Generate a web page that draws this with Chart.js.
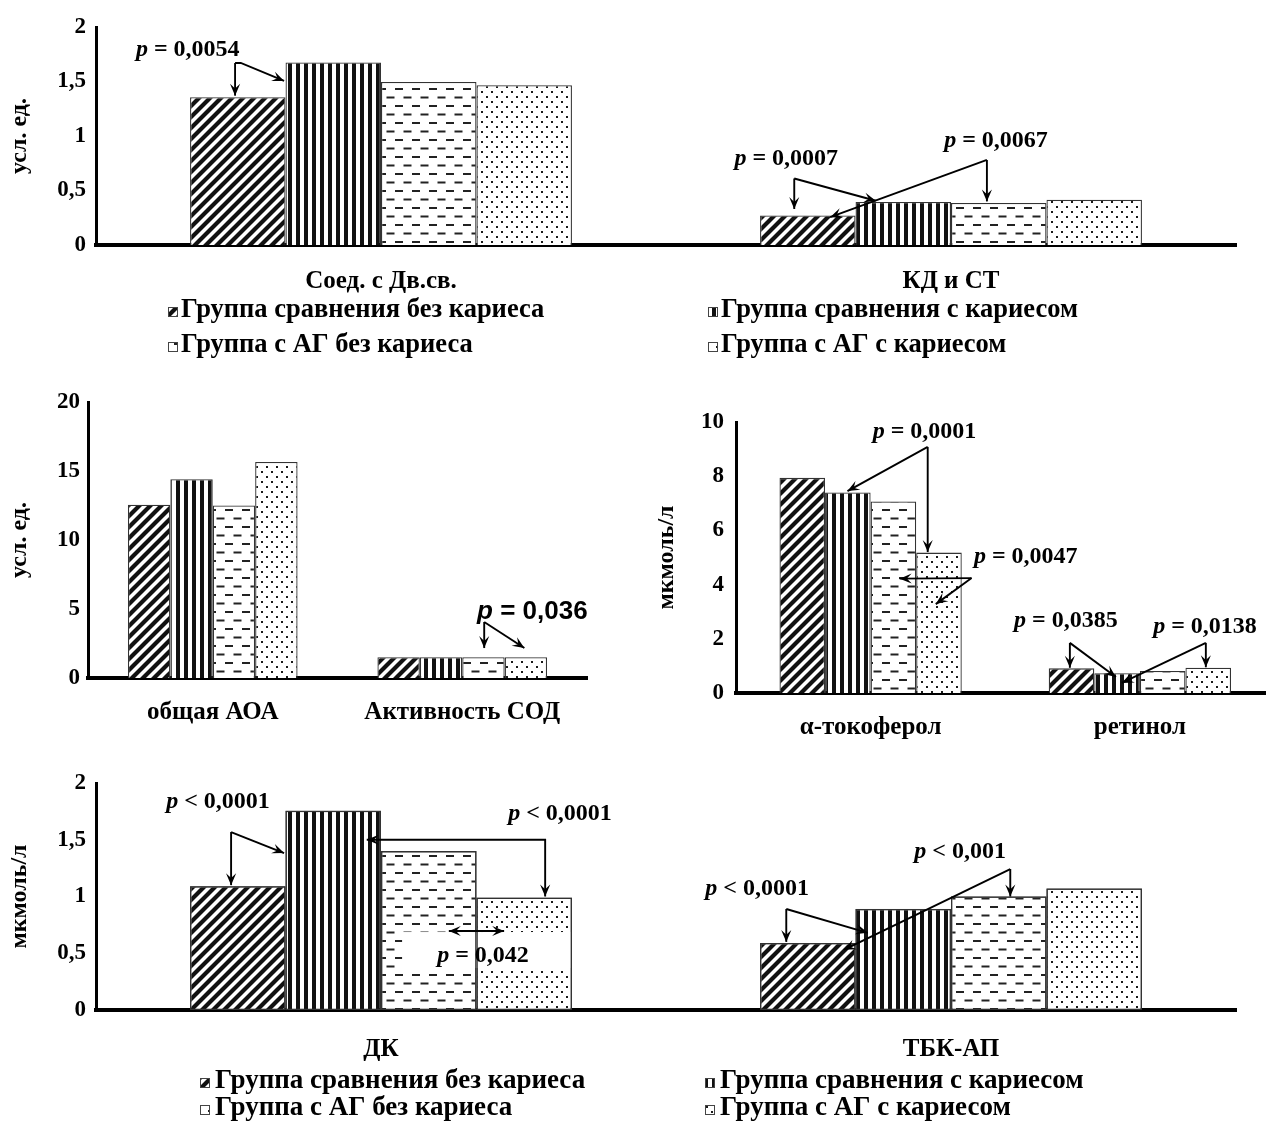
<!DOCTYPE html>
<html><head><meta charset="utf-8">
<script src="https://cdn.jsdelivr.net/npm/chart.js@4.4.1/dist/chart.umd.min.js"></script>
<style>
html,body{margin:0;padding:0;background:#fff;overflow:hidden;width:1266px;height:1121px;position:relative}
canvas{position:absolute;display:block}
</style></head><body>
<canvas id="c1" width="1266" height="365" style="left:0;top:0;width:1266px;height:365px"></canvas>
<canvas id="c2" width="620" height="380" style="left:0;top:370px;width:620px;height:380px"></canvas>
<canvas id="c3" width="640" height="380" style="left:640px;top:370px;width:640px;height:380px"></canvas>
<canvas id="c4" width="1266" height="371" style="left:0;top:750px;width:1266px;height:371px"></canvas>
<script>
// ---------------- DATA ----------------
const groupNames = ['Группа сравнения без кариеса','Группа сравнения с кариесом','Группа с АГ без кариеса','Группа с АГ с кариесом'];

const cats1 = ['Соед. с Дв.св.', 'КД и СТ'];
const c1CmpNo  = [1.355, 0.27];
const c1CmpYes = [1.675, 0.395];
const c1AgNo   = [1.495, 0.385];
const c1AgYes  = [1.465, 0.415];
const ticks1 = [0, 0.5, 1, 1.5, 2];

const cats2 = ['общая АОА', 'Активность СОД'];
const c2CmpNo  = [12.55, 1.5];
const c2CmpYes = [14.4, 1.5];
const c2AgNo   = [12.5, 1.5];
const c2AgYes  = [15.65, 1.5];
const ticks2 = [0, 5, 10, 15, 20];

const cats3 = ['α-токоферол', 'ретинол'];
const c3CmpNo  = [7.94, 0.91];
const c3CmpYes = [7.4, 0.73];
const c3AgNo   = [7.07, 0.81];
const c3AgYes  = [5.18, 0.93];
const ticks3 = [0, 2, 4, 6, 8, 10];

const cats4 = ['ДК', 'ТБК-АП'];
const c4CmpNo  = [1.09, 0.59];
const c4CmpYes = [1.755, 0.89];
const c4AgNo   = [1.40, 1.0];
const c4AgYes  = [0.99, 1.07];
const ticks4 = [0, 0.5, 1, 1.5, 2];

// ---------------- STYLE ----------------
const SERIF = "'Liberation Serif','Times New Roman',serif";
const SANS = "'Liberation Sans',Arial,sans-serif";

function makePattern(kind){
  const c = document.createElement('canvas');
  const x = c.getContext('2d');
  if (kind === 'diag'){
    const p = 11; c.width = p; c.height = p;
    x.fillStyle='#fff'; x.fillRect(0,0,p,p);
    x.strokeStyle='#111'; x.lineWidth=4.2; x.lineCap='square';
    x.beginPath();
    x.moveTo(0,p); x.lineTo(p,0);
    x.moveTo(-p,p); x.lineTo(p,-p);
    x.moveTo(0,2*p); x.lineTo(2*p,0);
    x.stroke();
  } else if (kind === 'vert'){
    c.width = 8; c.height = 8;
    x.fillStyle='#fff'; x.fillRect(0,0,8,8);
    x.fillStyle='#111'; x.fillRect(0,0,4,8);
  } else if (kind === 'dash'){
    c.width = 17; c.height = 17;
    x.fillStyle='#fff'; x.fillRect(0,0,17,17);
    x.fillStyle='#222';
    x.fillRect(4,3,8,2);
    x.fillRect(12.5,11.5,4.5,2); x.fillRect(0,11.5,3.5,2);
  } else {
    c.width = 10; c.height = 10;
    x.fillStyle='#fff'; x.fillRect(0,0,10,10);
    x.fillStyle='#1a1a1a';
    x.fillRect(1,1,2,2); x.fillRect(6,6,2,2);
  }
  return x.createPattern(c,'repeat');
}
const patterns = [makePattern('diag'), makePattern('vert'), makePattern('dash'), makePattern('dot')];

function drawP(ctx, text, x, y, size, family){
  const first = text.slice(0,1), rest = text.slice(1);
  ctx.font = `italic bold ${size}px ${family}`;
  const w1 = ctx.measureText(first).width;
  ctx.font = `bold ${size}px ${family}`;
  const w2 = ctx.measureText(rest).width;
  const x0 = x - (w1 + w2)/2;
  ctx.textAlign='left'; ctx.textBaseline='middle'; ctx.fillStyle='#000';
  ctx.font = `italic bold ${size}px ${family}`;
  ctx.fillText(first, x0, y);
  ctx.font = `bold ${size}px ${family}`;
  ctx.fillText(rest, x0 + w1, y);
}
function head(ctx, from, to){
  const a = Math.atan2(to[1]-from[1], to[0]-from[0]);
  const L = 13, th = 0.4;
  ctx.beginPath();
  ctx.moveTo(to[0], to[1]);
  ctx.lineTo(to[0]-L*Math.cos(a-th), to[1]-L*Math.sin(a-th));
  ctx.lineTo(to[0]-0.55*L*Math.cos(a), to[1]-0.55*L*Math.sin(a));
  ctx.lineTo(to[0]-L*Math.cos(a+th), to[1]-L*Math.sin(a+th));
  ctx.closePath(); ctx.fill();
}

function makeNotes(notes){
  return {
    id:'notes',
    afterDatasetsDraw(chart){
      const ctx = chart.ctx, xs = chart.scales.x, ys = chart.scales.y;
      const cw = xs.width / chart.data.labels.length;
      const P = p => [xs.left + (p[0]+0.5)*cw, ys.getPixelForValue(p[1])];
      ctx.save();
      (notes.boxes||[]).forEach(b=>{
        const a = P(b[0]), c = P(b[1]);
        ctx.fillStyle='#fff';
        ctx.fillRect(Math.min(a[0],c[0]), Math.min(a[1],c[1]), Math.abs(c[0]-a[0]), Math.abs(c[1]-a[1]));
      });
      if ((notes.boxes||[]).length){
        chart.data.datasets.forEach((d,i)=>{
          chart.getDatasetMeta(i).data.forEach(el=>{
            ctx.strokeStyle='#333'; ctx.lineWidth=1.3;
            ctx.strokeRect(el.x-el.width/2+0.65, el.y+0.65, el.width-1.3, el.base-el.y-1.3);
          });
        });
      }
      ctx.strokeStyle='#000'; ctx.fillStyle='#000'; ctx.lineWidth=1.9; ctx.lineJoin='miter';
      (notes.arrows||[]).forEach(a=>{
        const pts = a.pts.map(P);
        ctx.beginPath(); ctx.moveTo(pts[0][0], pts[0][1]);
        for (let i=1;i<pts.length;i++) ctx.lineTo(pts[i][0], pts[i][1]);
        ctx.stroke();
        const n = pts.length;
        head(ctx, pts[n-2], pts[n-1]);
        if (a.both) head(ctx, pts[1], pts[0]);
      });
      (notes.texts||[]).forEach(t=>{
        const p = P(t.at);
        drawP(ctx, t.text, p[0], p[1], t.size || 24, t.family || SERIF);
      });
      ctx.restore();
    }
  };
}
function makeLegend(lg){
  return {
    id:'gridLegend',
    afterDraw(chart){
      if (!lg) return;
      const ctx = chart.ctx;
      ctx.save();
      chart.data.datasets.forEach((d,i)=>{
        const it = lg.items[i];
        const by = it.y - lg.box/2 + 2;
        ctx.fillStyle = d.backgroundColor;
        ctx.fillRect(it.x, by, lg.box, lg.box);
        ctx.strokeStyle='#444'; ctx.lineWidth=1;
        ctx.strokeRect(it.x+0.5, by+0.5, lg.box-1, lg.box-1);
        ctx.font = `bold ${lg.size}px ${SERIF}`;
        ctx.textAlign='left'; ctx.textBaseline='middle'; ctx.fillStyle='#000';
        ctx.fillText(d.label, it.x + lg.gap, it.y);
      });
      ctx.restore();
    }
  };
}

function build(id, cfg){
  const el = document.getElementById(id);
  const W = el.width, H = el.height, A = cfg.area;
  const fmt = v => String(v).replace('.', ',');
  new Chart(el, {
    type:'bar',
    data:{
      labels: cfg.labels,
      datasets: cfg.series.map((d,i)=>({
        label: groupNames[i], data: d,
        backgroundColor: patterns[i], borderColor:'#333', borderWidth:1.3,
        categoryPercentage: cfg.catPct, barPercentage: 1
      }))
    },
    options:{
      responsive:false, animation:false, devicePixelRatio:1,
      events:[],
      layout:{padding:{left:0, top:A.top, right:W-A.right, bottom:H-A.bottom-cfg.xH}},
      plugins:{legend:{display:false}, tooltip:{enabled:false}},
      scales:{
        x:{
          grid:{display:false, drawTicks:false},
          border:{display:true, color:'#000', width:4},
          ticks:{font:{family:SERIF, size:25, weight:'bold'}, color:'#000', padding:cfg.xPad, maxRotation:0, autoSkip:false},
          afterFit: s => { s.height = cfg.xH; }
        },
        y:{
          min:0, max:cfg.ticks[cfg.ticks.length-1],
          grid:{display:false, drawTicks:false},
          border:{display:true, color:'#000', width:3},
          ticks:{font:{family:SERIF, size:23, weight:'bold'}, color:'#000', padding:cfg.yPad, callback: v => fmt(v)},
          afterBuildTicks: s => { s.ticks = cfg.ticks.map(v=>({value:v})); },
          title:{display:true, text:cfg.yTitle, color:'#000', font:{family:SERIF, size:24, weight:'bold'}, padding:{top:cfg.titlePad, bottom:0}},
          afterFit: s => { s.width = A.left; }
        }
      }
    },
    plugins:[makeNotes(cfg.notes), makeLegend(cfg.legend)]
  });
}

build('c1', {
  labels: cats1, series:[c1CmpNo, c1CmpYes, c1AgNo, c1AgYes], ticks: ticks1, yTitle:'усл. ед.',
  area:{left:96, right:1236, top:27, bottom:245}, xH:60, xPad:22, yPad:10, titlePad:5.6, catPct:0.67,
  notes:{
    arrows:[
      {pts:[[-0.256,1.67],[-0.256,1.37]]},
      {pts:[[-0.256,1.67],[-0.246,1.67],[-0.170,1.505]]},
      {pts:[[0.725,0.61],[0.725,0.33]]},
      {pts:[[0.725,0.61],[0.868,0.406]]},
      {pts:[[1.063,0.78],[1.063,0.40]]},
      {pts:[[1.063,0.78],[0.788,0.255]]}
    ],
    texts:[
      {at:[-0.339,1.79], text:'p = 0,0054'},
      {at:[0.711,0.79], text:'p = 0,0007'},
      {at:[1.079,0.954], text:'p = 0,0067'}
    ]
  },
  legend:{size:26.5, box:10, gap:13, items:[{x:168,y:310},{x:708,y:310},{x:168,y:345},{x:708,y:345}]}
});

build('c2', {
  labels: cats2, series:[c2CmpNo, c2CmpYes, c2AgNo, c2AgYes], ticks: ticks2, yTitle:'усл. ед.',
  area:{left:88, right:587, top:32, bottom:308}, xH:50, xPad:20, yPad:8, titlePad:5.6, catPct:0.68,
  notes:{
    arrows:[
      {pts:[[1.088,4.06],[1.088,2.17]]},
      {pts:[[1.088,4.06],[1.249,2.17]]}
    ],
    texts:[{at:[1.281,4.78], text:'p = 0,036', size:26, family:SANS}]
  }
});

build('c3', {
  labels: cats3, series:[c3CmpNo, c3CmpYes, c3AgNo, c3AgYes], ticks: ticks3, yTitle:'мкмоль/л',
  area:{left:96, right:634.5, top:52, bottom:323}, xH:50, xPad:20, yPad:12, titlePad:12.6, catPct:0.677,
  notes:{
    arrows:[
      {pts:[[0.212,9.08],[-0.086,7.45]]},
      {pts:[[0.212,9.08],[0.212,5.2]]},
      {pts:[[0.375,4.24],[0.108,4.22]]},
      {pts:[[0.375,4.24],[0.242,3.28]]},
      {pts:[[0.740,1.85],[0.740,0.93]]},
      {pts:[[0.740,1.85],[0.911,0.59]]},
      {pts:[[1.245,1.85],[1.245,0.95]]},
      {pts:[[1.245,1.85],[0.933,0.37]]}
    ],
    texts:[
      {at:[0.2,9.63], text:'p = 0,0001'},
      {at:[0.576,5.02], text:'p = 0,0047'},
      {at:[0.725,2.66], text:'p = 0,0385'},
      {at:[1.242,2.44], text:'p = 0,0138'}
    ]
  }
});

build('c4', {
  labels: cats4, series:[c4CmpNo, c4CmpYes, c4AgNo, c4AgYes], ticks: ticks4, yTitle:'мкмоль/л',
  area:{left:96, right:1236, top:33, bottom:260}, xH:60, xPad:25, yPad:10, titlePad:5.6, catPct:0.67,
  notes:{
    boxes:[[[0.037,0.687],[0.333,0.37]]],
    arrows:[
      {pts:[[-0.263,1.568],[-0.263,1.1]]},
      {pts:[[-0.263,1.568],[-0.170,1.383]]},
      {pts:[[0.288,1.0],[0.288,1.5],[-0.025,1.5]], both:true},
      {pts:[[0.119,0.696],[0.216,0.696]], both:true},
      {pts:[[1.104,1.242],[1.104,1.0]]},
      {pts:[[1.104,1.242],[0.812,0.53]]},
      {pts:[[0.711,0.89],[0.711,0.6]]},
      {pts:[[0.711,0.89],[0.854,0.68]]}
    ],
    texts:[
      {at:[-0.286,1.833], text:'p < 0,0001'},
      {at:[0.314,1.727], text:'p < 0,0001'},
      {at:[0.179,0.476], text:'p = 0,042'},
      {at:[1.016,1.39], text:'p < 0,001'},
      {at:[0.660,1.066], text:'p < 0,0001'}
    ]
  },
  legend:{size:27, box:10, gap:15, items:[{x:200,y:331},{x:705,y:331},{x:200,y:358},{x:705,y:358}]}
});
</script>
</body></html>
